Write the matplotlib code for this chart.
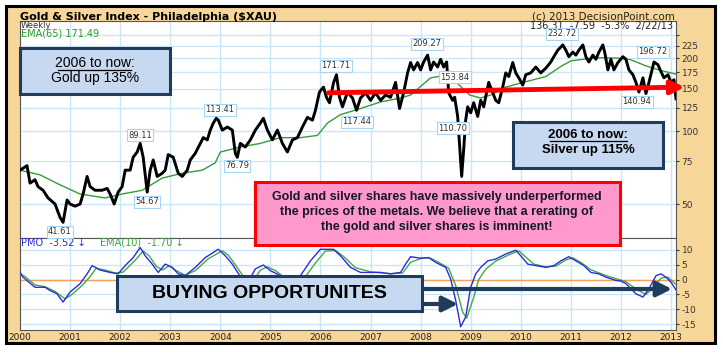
import matplotlib
matplotlib.use('Agg')
import matplotlib.pyplot as plt
import matplotlib.ticker as mticker
from matplotlib.patches import Rectangle, FancyArrowPatch
from matplotlib.lines import Line2D

plt.rcParams['axes.unicode_minus'] = False
plt.rcParams['font.family'] = ['DejaVu Sans']

# ---- weekly $XAU (decimal years) ----
xau_dates = [
  2000.00, 2000.14, 2000.20, 2000.30, 2000.36, 2000.46, 2000.56, 2000.70, 2000.80, 2000.86,
  2000.94, 2001.00, 2001.10, 2001.20, 2001.26, 2001.34, 2001.40, 2001.50, 2001.64, 2001.74,
  2001.80, 2001.88, 2001.96, 2002.04, 2002.10, 2002.20, 2002.26, 2002.34, 2002.40, 2002.46,
  2002.54, 2002.60, 2002.66, 2002.74, 2002.84, 2002.90, 2002.96, 2003.06, 2003.16, 2003.24,
  2003.34, 2003.40, 2003.50, 2003.60, 2003.66, 2003.74, 2003.80, 2003.86, 2003.92, 2003.96,
  2004.04, 2004.14, 2004.24, 2004.30, 2004.34, 2004.40, 2004.50, 2004.60, 2004.70, 2004.80,
  2004.86, 2004.94, 2005.04, 2005.14, 2005.24, 2005.34, 2005.44, 2005.54, 2005.64, 2005.74,
  2005.84, 2005.90, 2005.98, 2006.06, 2006.12, 2006.18, 2006.26, 2006.32, 2006.38, 2006.44,
  2006.54, 2006.64, 2006.72, 2006.80, 2006.90, 2007.00, 2007.10, 2007.20, 2007.30, 2007.40,
  2007.50, 2007.58, 2007.66, 2007.74, 2007.80, 2007.86, 2007.94, 2008.00, 2008.06, 2008.14,
  2008.20, 2008.26, 2008.34, 2008.40, 2008.46, 2008.52, 2008.56, 2008.64, 2008.68, 2008.74,
  2008.78, 2008.82, 2008.86, 2008.90, 2008.94, 2009.00, 2009.06, 2009.14, 2009.20, 2009.26,
  2009.36, 2009.44, 2009.50, 2009.56, 2009.64, 2009.70, 2009.76, 2009.84, 2009.90, 2009.96,
  2010.04, 2010.10, 2010.20, 2010.30, 2010.40, 2010.50, 2010.60, 2010.66, 2010.74, 2010.84,
  2010.90, 2010.96, 2011.04, 2011.10, 2011.16, 2011.24, 2011.30, 2011.36, 2011.44, 2011.50,
  2011.56, 2011.64, 2011.68, 2011.74, 2011.80, 2011.86, 2011.94, 2012.04, 2012.10, 2012.16,
  2012.24, 2012.30, 2012.36, 2012.44, 2012.50, 2012.56, 2012.62, 2012.66, 2012.74, 2012.80,
  2012.86, 2012.94, 2013.00, 2013.06, 2013.10]
xau = [
  69, 72, 61, 63, 59, 57, 53, 50, 44, 42,
  52, 50, 49, 50, 55, 65, 59, 57, 57, 58,
  55, 50, 56, 59, 69, 69, 78, 82, 89, 78,
  56, 69, 76, 65, 67, 69, 80, 78, 67, 65,
  69, 76, 81, 89, 94, 92, 101, 108, 113, 111,
  101, 104, 101, 81, 78, 89, 86, 92, 101, 108,
  113, 101, 92, 101, 89, 82, 92, 94, 104, 114,
  111, 122, 145, 152, 138, 131, 158, 171, 138, 126,
  145, 137, 122, 137, 144, 134, 144, 134, 141, 138,
  159, 124, 144, 174, 192, 179, 192, 179, 193, 206,
  179, 193, 184, 198, 184, 193, 144, 134, 138, 115,
  86, 65, 84, 111, 126, 119, 131, 115, 134, 126,
  159, 144, 134, 131, 152, 174, 168, 192, 174, 166,
  155, 171, 174, 184, 174, 182, 193, 203, 216, 227,
  216, 203, 212, 206, 216, 227, 203, 193, 206, 198,
  212, 227, 210, 179, 198, 179, 192, 203, 198, 179,
  171, 159, 145, 166, 143, 159, 179, 193, 188, 176,
  166, 171, 159, 163, 136]

# ---- EMA(65) ----
ema_dates = [2000.00, 2000.40, 2000.80, 2001.20, 2001.70, 2002.04, 2002.44, 2002.84, 2003.24, 2003.64,
             2003.90, 2004.00, 2004.40, 2004.80, 2005.20, 2005.60, 2005.94, 2006.14, 2006.40, 2006.80,
             2007.20, 2007.60, 2007.80, 2008.20, 2008.50, 2008.70, 2008.98, 2009.20, 2009.40, 2009.70,
             2010.00, 2010.20, 2010.50, 2010.80, 2011.00, 2011.40, 2011.60, 2012.00, 2012.20, 2012.50,
             2012.80, 2013.10]
ema65 = [69, 66, 60, 55, 53, 55, 57, 64, 67, 69,
         74, 82, 86, 89, 94, 94, 96, 108, 117, 124,
         132, 137, 141, 166, 170, 160, 141, 137, 141, 152,
         158, 162, 168, 185, 195, 200, 201, 200, 197, 186,
         178, 172]

# ---- PMO and its EMA(10) ----
pmo_dates = [
  2000.00, 2000.06, 2000.30, 2000.50, 2000.60, 2000.74, 2000.86, 2001.00, 2001.20, 2001.34,
  2001.44, 2001.60, 2001.80, 2001.96, 2002.10, 2002.26, 2002.40, 2002.50, 2002.64, 2002.76,
  2002.90, 2003.04, 2003.16, 2003.30, 2003.50, 2003.70, 2003.96, 2004.10, 2004.24, 2004.40,
  2004.50, 2004.60, 2004.70, 2004.86, 2005.00, 2005.20, 2005.35, 2005.50, 2005.60, 2005.80,
  2006.00, 2006.26, 2006.40, 2006.60, 2006.80, 2007.00, 2007.20, 2007.40, 2007.60, 2007.70,
  2007.80, 2008.00, 2008.16, 2008.30, 2008.50, 2008.60, 2008.70, 2008.80, 2008.90, 2009.00,
  2009.10, 2009.20, 2009.34, 2009.50, 2009.70, 2009.90, 2010.00, 2010.14, 2010.30, 2010.50,
  2010.66, 2010.80, 2010.96, 2011.10, 2011.26, 2011.40, 2011.56, 2011.70, 2011.90, 2012.00,
  2012.10, 2012.30, 2012.44, 2012.56, 2012.70, 2012.80, 2012.90, 2013.00, 2013.10]
pmo = [
  2.4, 0.8, -2.6, -2.6, -3.7, -4.8, -7.6, -4.2, -1.4, 1.9,
  4.7, 3.2, 2.4, 1.9, 4.7, 7.4, 10.8, 8.0, 5.2, 2.4,
  5.2, 4.1, 1.9, 1.3, 4.1, 7.4, 10.2, 8.0, 5.2, 1.0,
  -2.5, 0.5, 3.6, 4.9, 3.0, 1.3, -2.5, -1.5, 1.3, 6.3,
  10.2, 10.2, 8.0, 4.1, 2.4, 2.4, 2.4, 1.9, 2.4, 5.2,
  7.7, 7.2, 7.4, 5.8, 4.1, 0.2, -7.0, -15.9, -12.6, -2.6,
  1.9, 4.1, 6.3, 6.9, 8.6, 9.9, 8.0, 5.2, 4.7, 4.1,
  4.7, 6.3, 7.7, 6.3, 4.7, 2.4, 1.9, 0.8, -0.3, -0.5,
  -1.4, -4.8, -5.9, -3.1, 1.3, 1.9, 0.8, -0.9, -3.5]
sig_dates = [
  2000.00, 2000.10, 2000.30, 2000.50, 2000.70, 2000.90, 2001.04, 2001.24, 2001.40, 2001.52,
  2001.70, 2001.90, 2002.06, 2002.30, 2002.46, 2002.58, 2002.72, 2002.84, 2002.98, 2003.12,
  2003.30, 2003.50, 2003.76, 2004.04, 2004.16, 2004.30, 2004.50, 2004.64, 2004.80, 2004.94,
  2005.10, 2005.30, 2005.50, 2005.70, 2005.90, 2006.10, 2006.30, 2006.46, 2006.70, 2007.00,
  2007.20, 2007.40, 2007.64, 2007.80, 2008.04, 2008.20, 2008.36, 2008.56, 2008.70, 2008.84,
  2008.92, 2009.06, 2009.16, 2009.30, 2009.50, 2009.76, 2009.96, 2010.10, 2010.26, 2010.50,
  2010.70, 2010.90, 2011.04, 2011.20, 2011.40, 2011.60, 2011.76, 2011.96, 2012.10, 2012.30,
  2012.50, 2012.64, 2012.80, 2012.94, 2013.10]
pmo_ema = [
  2.0, 1.0, -1.8, -2.4, -4.0, -6.5, -5.0, -2.0, 1.0, 3.8,
  3.2, 2.2, 2.5, 6.5, 9.6, 8.0, 4.5, 3.2, 4.6, 3.0,
  1.5, 3.0, 7.0, 9.7, 8.2, 5.0, 0.0, -1.0, 3.2, 4.3,
  3.0, 0.5, -1.5, 1.0, 5.6, 9.6, 9.8, 7.8, 4.0, 2.6,
  2.3, 2.0, 2.2, 5.8, 7.3, 7.2, 5.8, 3.8, -2.0, -11.0,
  -13.0, -6.0, 0.0, 3.5, 6.2, 8.3, 9.7, 7.6, 5.2, 4.3,
  4.5, 6.6, 7.3, 5.8, 3.3, 2.0, 1.0, 0.0, -0.7, -3.2,
  -5.0, -3.0, 0.5, 0.8, -1.7]

years = list(range(2000, 2014))
price_grid = [50, 75, 100, 125, 150, 175, 200, 225, 250]
price_labels = ['50', '75', '100', '125', '150', '175', '200', '225', '']
pmo_ticks = [-15, -10, -5, 0, 5, 10]

# horizontal support line drawn on the chart (year, price)
trend_start = (2006.16, 144)
trend_end = (2013.27, 152)

# swing high / low callouts: text, pixel position of the label
callouts = [('41.61', 60, 232), ('89.11', 140, 135), ('54.67', 147, 202), ('113.41', 220, 110),
            ('76.79', 237, 166), ('171.71', 336, 66), ('117.44', 357, 122), ('209.27', 427, 44),
            ('153.84', 455, 77), ('110.70', 453, 128), ('232.72', 562, 34), ('196.72', 653, 52),
            ('140.94', 637, 102)]

W, H = 723, 357
def fx(x):
  return x / W
def fy(y):
  return 1 - y / H

fig = plt.figure(figsize=(W / 100, H / 100), dpi=100)
fig.patch.set_facecolor('white')
fig.add_artist(Rectangle((fx(6), fy(343)), (715 - 6) / W, (343 - 6) / H, transform=fig.transFigure,
                         facecolor='#F7D699', edgecolor='black', lw=2.2, zorder=-5))

gridc = '#CBE7F7'
ax = fig.add_axes([fx(20), fy(238), 656 / W, (238 - 21) / H])
pm = fig.add_axes([fx(20), fy(330), 656 / W, (330 - 238) / H], sharex=ax)

for a in (ax, pm):
  a.set_facecolor('white')
  for s in a.spines.values():
    s.set_color('#555555')
    s.set_linewidth(0.8)
  a.grid(True, color=gridc, lw=1.0)
  a.set_axisbelow(True)
  a.yaxis.tick_right()
  a.tick_params(axis='y', labelsize=6.5, length=2.5, pad=1.5, colors='#333333')
  a.tick_params(axis='x', length=0)

ax.set_yscale('log')
ax.set_ylim(36.2, 285)
ax.yaxis.set_major_locator(mticker.FixedLocator(price_grid))
ax.yaxis.set_minor_locator(mticker.NullLocator())
ax.set_yticklabels(price_labels)
ax.set_xlim(2000, 2013.1)
ax.set_xticks(years)
ax.tick_params(axis='x', labelbottom=False)

ax.plot(ema_dates, ema65, color='#3A9A3A', lw=1.0, zorder=2)
ax.plot(xau_dates, xau, color='black', lw=2.1, zorder=3)
ax.annotate('', xy=trend_end, xytext=trend_start, annotation_clip=False, zorder=4,
            arrowprops=dict(arrowstyle='-|>,head_length=0.6,head_width=0.3', color='#FF0000',
                            lw=3.5, shrinkA=0, shrinkB=0, mutation_scale=13))

pm.set_ylim(-17, 14)
pm.set_yticks(pmo_ticks)
pm.axhline(0, color='#F0A060', lw=1.0, zorder=1)
pm.plot(sig_dates, pmo_ema, color='#44AA44', lw=1.0, zorder=2)
pm.plot(pmo_dates, pmo, color='#2B2BE0', lw=1.0, zorder=3)
pm.set_xticks(years)
pm.set_xticklabels([str(y) for y in years])
pm.tick_params(axis='x', labelsize=6.5, pad=2, colors='#222222')

# header texts
fig.text(fx(20), fy(16.5), r'Gold & Silver Index - Philadelphia (\$XAU)', fontsize=8, weight='bold', va='center')
fig.text(fx(675), fy(16.5), '(c) 2013 DecisionPoint.com', fontsize=7.5, ha='right', va='center', color='#222222')
fig.text(fx(673), fy(26), '136.31  -7.59  -5.3%  2/22/13', fontsize=7, ha='right', va='center', color='#222222', zorder=6)
fig.text(fx(21), fy(25), 'Weekly', fontsize=6, va='center', color='#333333', zorder=6)
fig.text(fx(21), fy(33), 'EMA(65) 171.49', fontsize=7, va='center', color='#2E9A2E', zorder=6)
fig.text(fx(21), fy(242.5), 'PMO  -3.52 \u2193', fontsize=7, va='center', color='#2B2BE0', zorder=6)
fig.text(fx(100), fy(242.5), 'EMA(10)  -1.70 \u2193', fontsize=7, va='center', color='#3AAA3A', zorder=6)

for txt, x, y in callouts:
  fig.text(fx(x), fy(y), txt, fontsize=6, ha='center', va='center', color='#333333', zorder=6,
           bbox=dict(boxstyle='square,pad=0.15', fc='white', ec='#A8D4F0', lw=0.8))

def box(x0, y0, x1, y1, fc, ec):
  fig.add_artist(Rectangle((fx(x0), fy(y1)), (x1 - x0) / W, (y1 - y0) / H, transform=fig.transFigure,
                           facecolor=fc, edgecolor=ec, lw=2.2, zorder=7))

sans = ['Liberation Sans', 'DejaVu Sans']
navy = '#1F3B5E'

box(20, 48, 170, 94, '#C6D9F0', navy)
fig.text(fx(95), fy(63), '2006 to now:', family=sans, fontsize=10, ha='center', va='center', zorder=8)
fig.text(fx(95), fy(78), 'Gold up 135%', family=sans, fontsize=10, ha='center', va='center', zorder=8)
fig.add_artist(Line2D([fx(58), fx(131)], [fy(69.5), fy(69.5)], transform=fig.transFigure, color='black', lw=0.9, zorder=8))

box(513, 122, 663, 168, '#C6D9F0', navy)
fig.text(fx(588), fy(135), '2006 to now:', family=sans, fontsize=9.5, weight='bold', ha='center', va='center', zorder=8)
fig.text(fx(588), fy(150), 'Silver up 115%', family=sans, fontsize=9.5, weight='bold', ha='center', va='center', zorder=8)
fig.add_artist(Line2D([fx(550), fx(627)], [fy(141.5), fy(141.5)], transform=fig.transFigure, color='black', lw=0.9, zorder=8))

box(255, 182, 620, 245, '#FF99CC', '#FF0000')
msg = ['Gold and silver shares have massively underperformed',
       'the prices of the metals. We believe that a rerating of',
       'the gold and silver shares is imminent!']
for i, line in enumerate(msg):
  fig.text(fx(437), fy(197 + 15 * i), line, family=sans, fontsize=9, weight='bold', ha='center', va='center',
           color='#15152E', zorder=8)

box(117, 276, 422, 311, '#C6D9F0', navy)
fig.text(fx(269), fy(294), 'BUYING OPPORTUNITES', family=sans, fontsize=14, weight='bold', ha='center',
         va='center', color='black', zorder=8)

for y, xend in ((289, 672), (304, 458)):
  fig.add_artist(FancyArrowPatch(posA=(fx(423), fy(y)), posB=(fx(xend), fy(y)), transform=fig.transFigure,
                                 arrowstyle='-|>,head_length=0.7,head_width=0.35', mutation_scale=13,
                                 lw=3, color=navy, shrinkA=0, shrinkB=0, zorder=7))

fig.savefig('out.png', dpi=100)
